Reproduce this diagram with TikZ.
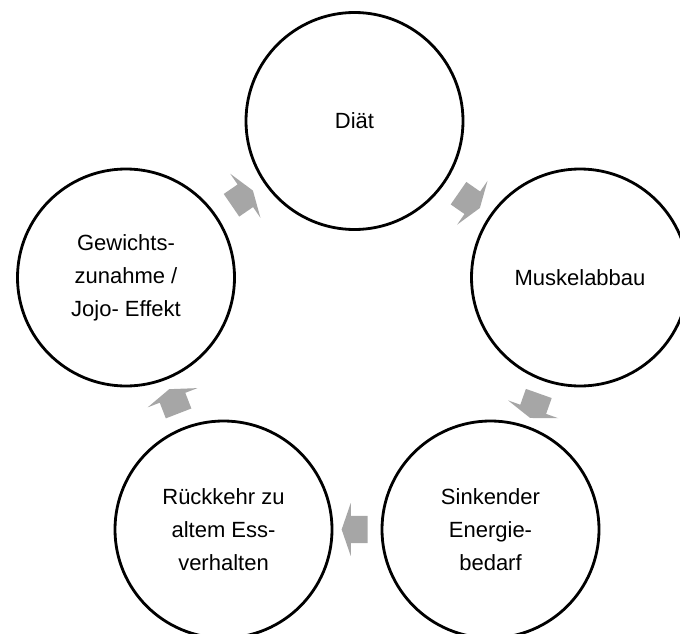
\documentclass[tikz,border=0pt]{standalone}
\usepackage{fontspec}
\setmainfont{Liberation Sans}
\usetikzlibrary{shapes.arrows}
\definecolor{arrgrey}{RGB}{166,166,166}

\begin{document}
\begin{tikzpicture}[x=1pt,y=-1pt]
    \tikzset{%
      phase/.style={circle, draw, line width=2.8pt, inner sep=0pt,
        minimum size=217pt, align=center,
        font=\fontsize{22}{33}\selectfont},
      cyc/.style={single arrow, fill=arrgrey, inner xsep=0pt,
        inner ysep=13.5pt, minimum height=26pt,
        single arrow head extend=13pt, single arrow tip angle=142,
        sloped, allow upside down},
    }
    \useasboundingbox (0,0) rectangle (680,634);
    % the five phases
    \node[phase] (diat) at (354.5,121) {Diät};
    \node[phase] (muskel) at (580,277.5) {Muskelabbau};
    \node[phase] (energie) at (490.5,529.5) {Sinkender\\Energie-\\bedarf};
    \node[phase] (rueck) at (223.5,529.5) {Rückkehr zu\\altem Ess-\\verhalten};
    \node[phase] (gewicht) at (126,277.5) {Gewichts-\\zunahme /\\Jojo- Effekt};

    % arrows of the cycle
    \path (diat) -- node[cyc] {} (muskel);
    \path (muskel) -- node[cyc] {} (energie);
    \path (energie) -- node[cyc] {} (rueck);
    \path (rueck) -- node[cyc] {} (gewicht);
    \path (gewicht) -- node[cyc] {} (diat);
\end{tikzpicture}
\end{document}
